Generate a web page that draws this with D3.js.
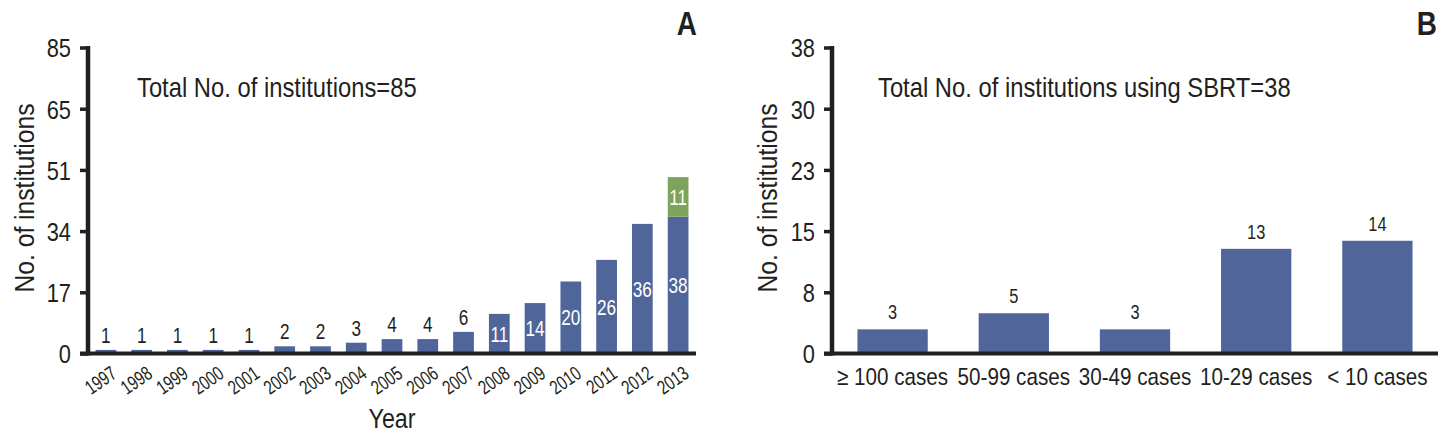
<!DOCTYPE html>
<html><head><meta charset="utf-8">
<script src="https://cdn.jsdelivr.net/npm/d3@7"></script>
<style>
html,body{margin:0;padding:0;background:#fff;}
svg text{font-family:"Liberation Sans",Arial,sans-serif;fill:#231f20;}
</style></head>
<body>
<svg id="chart" width="1449" height="435"></svg>
<script>
// ---- Data ----
const years = ["1997","1998","1999","2000","2001","2002","2003","2004","2005","2006","2007","2008","2009","2010","2011","2012","2013"];
const institutionsA = [1,1,1,1,1,2,2,3,4,4,6,11,14,20,26,36,38];
const additionalA = [0,0,0,0,0,0,0,0,0,0,0,0,0,0,0,0,11];
const yTickValuesA = [0,17,34,51,68,85];
const yTickLabelsA = ["0","17","34","51","65","85"];

const caseGroups = ["\u2265 100 cases","50-99 cases","30-49 cases","10-29 cases","< 10 cases"];
const institutionsB = [3,5,3,13,14];
const yTickValuesB = [0,7.6,15.2,22.8,30.4,38];
const yTickLabelsB = ["0","8","15","23","30","38"];

const blue = "#50669a", green = "#7ea35a", ink = "#231f20";
const svg = d3.select("#chart");

// condensed text helper: horizontal squeeze to mimic a condensed face
function T(g, x, y, str, size, o={}){
  const sx = o.sx || 0.85;
  const t = g.append("text")
    .attr("transform",`translate(${x},${y})${o.rot?` rotate(${o.rot})`:""} scale(${sx},1)`)
    .attr("text-anchor", o.anchor || "start")
    .style("font-size", size+"px")
    .text(str);
  if(o.dy) t.attr("dy", o.dy);
  if(o.fill) t.style("fill", o.fill);
  if(o.bold) t.style("font-weight","bold");
  return t;
}

function drawAxes(g, x, y, tickVals, tickLabels){
  const ya = d3.axisLeft(y).tickValues(tickVals).tickSize(8).tickSizeOuter(0).tickPadding(9)
    .tickFormat((d,i)=>tickLabels[i]);
  const yg = g.append("g").attr("transform",`translate(${x.range()[0]},0)`).call(ya);
  yg.select(".domain").attr("stroke",ink).attr("stroke-width",4.5)
    .attr("d",`M0,${y(0)+2}V${y.range()[1]-1.5}`);
  yg.selectAll(".tick line").attr("stroke",ink).attr("stroke-width",3.5);
  yg.selectAll(".tick text").each(function(){
    const el = d3.select(this); const x0 = +el.attr("x");
    el.attr("x",0).attr("transform",`translate(${x0},0) scale(0.84,1)`);
  }).style("font-size","26px").attr("fill",ink).attr("dy","0.36em");
  g.append("line").attr("x1",x.range()[0]-8).attr("x2",x.range()[1])
    .attr("y1",y(0)).attr("y2",y(0)).attr("stroke",ink).attr("stroke-width",4);
}

// ---- Panel A ----
{
  const g = svg.append("g");
  const x = d3.scaleBand().domain(years).range([88,696]).paddingInner(0.42).paddingOuter(0.21);
  const y = d3.scaleLinear().domain([0,85]).range([353.5,47.5]);
  g.selectAll("rect.main").data(years).join("rect").attr("class","main")
    .attr("x",d=>x(d)).attr("width",x.bandwidth())
    .attr("y",(d,i)=>y(institutionsA[i])).attr("height",(d,i)=>y(0)-y(institutionsA[i]))
    .attr("fill",blue);
  g.selectAll("rect.add").data(years.filter((d,i)=>additionalA[i]>0)).join("rect").attr("class","add")
    .attr("x",d=>x(d)).attr("width",x.bandwidth())
    .attr("y",d=>{const i=years.indexOf(d);return y(institutionsA[i]+additionalA[i]);})
    .attr("height",d=>{const i=years.indexOf(d);return y(institutionsA[i])-y(institutionsA[i]+additionalA[i]);})
    .attr("fill",green);
  drawAxes(g,x,y,yTickValuesA,yTickLabelsA);
  years.forEach((d,i)=>{
    const v = institutionsA[i];
    const cx = x(d)+x.bandwidth()/2;
    if(v<10){
      T(g,cx,y(v)-7,v,22,{anchor:"middle",sx:0.78});
    } else {
      T(g,cx,(y(v)+y(0))/2,v,22,{anchor:"middle",sx:0.78,dy:"0.36em",fill:"#fff"});
    }
    if(additionalA[i]>0){
      const a=additionalA[i];
      T(g,cx,(y(v)+y(v+a))/2,a,22,{anchor:"middle",sx:0.78,dy:"0.36em",fill:"#fff"});
    }
    T(g,cx+12,y(0)+23,d,20,{anchor:"end",rot:-35,sx:0.74});
  });
  T(g,392,428,"Year",28,{anchor:"middle",sx:0.83});
  T(g,34,198,"No. of institutions",28,{anchor:"middle",rot:-90,sx:0.88});
  T(g,137,97,"Total No. of institutions=85",28,{sx:0.85});
  T(g,697,35,"A",34,{anchor:"end",bold:true,sx:0.82});
}

// ---- Panel B ----
{
  const g = svg.append("g");
  const x = d3.scaleBand().domain(caseGroups).range([832,1438]).paddingInner(0.42).paddingOuter(0.21);
  const y = d3.scaleLinear().domain([0,38]).range([353.5,47.5]);
  g.selectAll("rect.main").data(caseGroups).join("rect").attr("class","main")
    .attr("x",d=>x(d)).attr("width",x.bandwidth())
    .attr("y",(d,i)=>y(institutionsB[i])).attr("height",(d,i)=>y(0)-y(institutionsB[i]))
    .attr("fill",blue);
  drawAxes(g,x,y,yTickValuesB,yTickLabelsB);
  caseGroups.forEach((d,i)=>{
    const cx = x(d)+x.bandwidth()/2;
    T(g,cx,y(institutionsB[i])-10,institutionsB[i],21,{anchor:"middle",sx:0.78});
    T(g,cx,385,d,24,{anchor:"middle",sx:0.86});
  });
  T(g,777,198,"No. of institutions",28,{anchor:"middle",rot:-90,sx:0.88});
  T(g,878,97,"Total No. of institutions using SBRT=38",28,{sx:0.85});
  T(g,1437,35,"B",34,{anchor:"end",bold:true,sx:0.82});
}
</script>
</body></html>
